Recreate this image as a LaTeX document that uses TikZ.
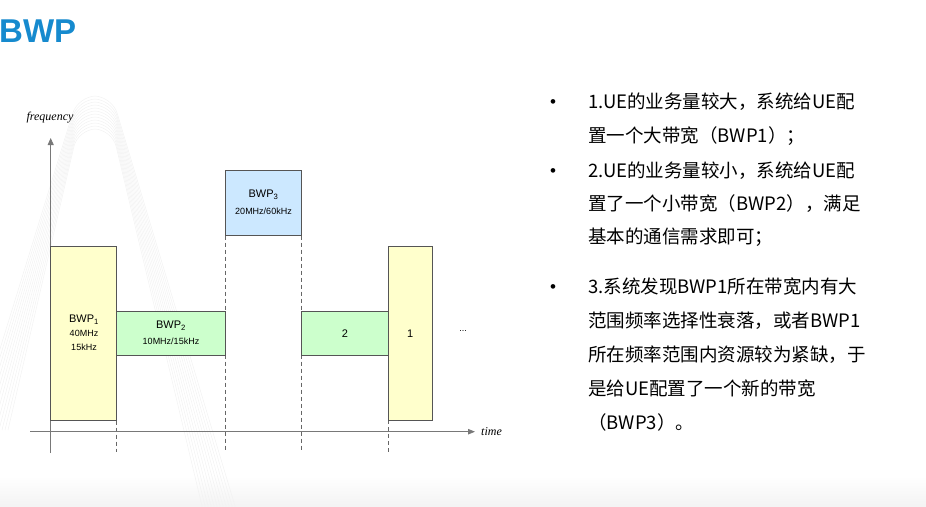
\documentclass[tikz,border=0pt]{standalone}
\usepackage{fontspec}
\setmainfont{Liberation Sans}
\newfontfamily\cjk{Noto Sans CJK SC}
\newfontfamily\timesf{Liberation Serif}
\usetikzlibrary{arrows.meta}
\definecolor{titleblue}{RGB}{22,138,206}
\definecolor{byellow}{RGB}{255,255,204}
\definecolor{bgreen}{RGB}{204,255,204}
\definecolor{bblue}{RGB}{204,232,255}
\definecolor{edgegray}{RGB}{85,85,85}
\definecolor{axisgray}{RGB}{120,120,120}
\definecolor{wmark}{RGB}{242,242,242}
\tikzset{
  band/.style={draw=edgegray, line width=0.8pt, inner sep=0pt, outer sep=0pt},
  axisline/.style={draw=axisgray, line width=0.8pt},
  guide/.style={draw=edgegray!90, line width=0.6pt, dash pattern=on 4pt off 3pt},
  big/.style={font=\fontsize{11}{13}\selectfont},
  small/.style={font=\fontsize{9}{10}\selectfont},
  axlabel/.style={font=\fontsize{12}{14}\selectfont\timesf\itshape},
  bodytext/.style={anchor=base west, inner sep=0pt, font=\fontsize{18.5}{22}\selectfont\cjk},
  bul/.style={anchor=base, inner sep=0pt, font=\fontsize{17}{18}\selectfont},
}
\begin{document}
\begin{tikzpicture}[x=1pt,y=-1pt]
\useasboundingbox (0,0) rectangle (926,506);
% bottom shading
\shade[top color=white, bottom color=gray!9] (0,476) rectangle (926,506);
% watermark stripes
\foreach \i in {0,...,11}{
  \pgfmathsetmacro{\d}{3*\i}
  \draw[wmark, line width=0.5pt, rounded corners=18pt]
    (-25+\d,430) -- (78,96+\d) -- (112,96+\d) -- (235-\d,506);
}
% title
\node[anchor=west, inner sep=0pt, text=titleblue, font=\fontsize{33}{36}\selectfont\bfseries] (title) at (-1,31) {BWP};

% axes
\coordinate (yb) at (50.7,453);
\coordinate (yt) at (50.7,138);
\coordinate (xl) at (30,431.7);
\coordinate (xr) at (475,431.7);
\coordinate (bot) at (0,452);

% dashed guides
\coordinate (g1t) at (116.7,420.7);
\coordinate (g2t) at (225,235.7);
\coordinate (g3t) at (301.7,235.7);
\coordinate (g4t) at (388.3,420.3);
\draw[guide] (g1t) -- (g1t |- bot);
\draw[guide] (g2t) -- (g2t |- bot);
\draw[guide] (g3t) -- (g3t |- bot);
\draw[guide] (g4t) -- (g4t |- bot);

\draw[axisline, -{Triangle[length=7pt,width=6pt]}] (yb) -- (yt);
\draw[axisline, -{Triangle[length=7pt,width=5.5pt]}] (xl) -- (xr);

\node[band, fill=byellow, minimum width=66pt, minimum height=174.7pt] (b1) at (83.7,333.4) {};
\node[band, fill=bgreen, minimum width=108.3pt, minimum height=43.6pt] (b2) at (170.85,333.5) {};
\node[band, fill=bblue, minimum width=76.7pt, minimum height=65.7pt] (b3) at (263.35,202.85) {};
\node[band, fill=bgreen, minimum width=86.6pt, minimum height=43.6pt] (b4) at (345,333.5) {};
\node[band, fill=byellow, minimum width=44pt, minimum height=173.6pt] (b5) at (410.3,333.5) {};

% box labels
\node[big, inner sep=0pt] (l1a) at (84,320) {BWP\textsubscript{1}};
\node[small, inner sep=0pt] (l1b) at (84,333.5) {40MHz};
\node[small, inner sep=0pt] (l1c) at (84,347.5) {15kHz};
\node[big, inner sep=0pt] (l2a) at (171,326) {BWP\textsubscript{2}};
\node[small, inner sep=0pt] (l2b) at (171,341) {10MHz/15kHz};
\node[big, inner sep=0pt] (l3a) at (263.5,195) {BWP\textsubscript{3}};
\node[small, inner sep=0pt] (l3b) at (263.5,211) {20MHz/60kHz};
\node[big, inner sep=0pt] (l4) at (345,333.5) {2};
\node[big, inner sep=0pt] (l5) at (410.3,333.5) {1};
\node[small, inner sep=0pt] (dots) at (463,331) {...};

% axis labels
\node[axlabel, inner sep=0pt] (flab) at (50,117.5) {frequency};
\node[axlabel, anchor=west, inner sep=0pt] (tlab) at (481,431.5) {time};

% right text
\foreach \yy/\txt [count=\k] in {
  108.7/{1.UE的业务量较大，系统给UE配},
  142/{置一个大带宽（BWP1）；},
  177/{2.UE的业务量较小，系统给UE配},
  210.3/{置了一个小带宽（BWP2），满足},
  243.7/{基本的通信需求即可；},
  293.5/{3.系统发现BWP1所在带宽内有大},
  327/{范围频率选择性衰落，或者BWP1},
  361/{所在频率范围内资源较为紧缺，于},
  395/{是给UE配置了一个新的带宽},
  429/{（BWP3）。}}{
  \node[bodytext] (t\k) at (588,\yy) {\txt};
}
\node[bul] (bu1) at (553,107.5) {•};
\node[bul] (bu2) at (553,176) {•};
\node[bul] (bu3) at (553,292.5) {•};
\end{tikzpicture}
\end{document}
